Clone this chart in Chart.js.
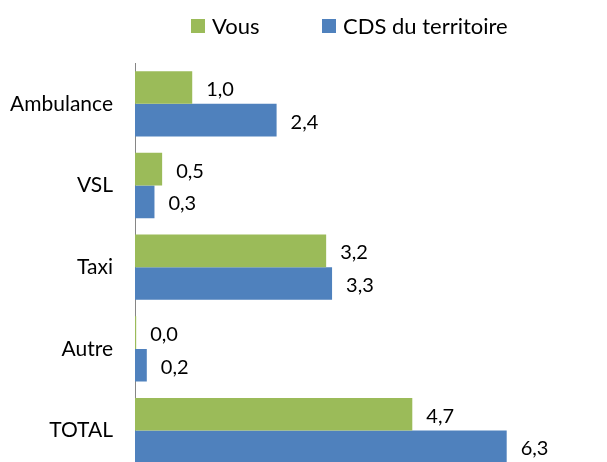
<!DOCTYPE html>
<html>
<head>
<meta charset="utf-8">
<script src="https://cdn.jsdelivr.net/npm/chart.js@4/dist/chart.umd.min.js"></script>
<style>
  html, body { margin: 0; padding: 0; background: #fff; overflow: hidden; }
  canvas { display: block; }
</style>
</head>
<body>
<canvas id="c" width="607" height="506" style="width:607px;height:506px"></canvas>
<script>
const categories = ["Ambulance", "VSL", "Taxi", "Autre", "TOTAL"];
const seriesNames = ["Vous", "CDS du territoire"];
const vousValues = [0.97, 0.46, 3.24, 0.02, 4.7];
const cdsValues = [2.4, 0.33, 3.34, 0.2, 6.3];
const seriesColors = ["#9BBB59", "#4F81BD"];

const FONT = "Lato, 'Liberation Sans', sans-serif";

const valueLabels = {
  id: "valueLabels",
  afterDatasetsDraw(chart) {
    const ctx = chart.ctx;
    ctx.save();
    ctx.font = "20px " + FONT;
    ctx.fillStyle = "#000";
    ctx.textAlign = "left";
    ctx.textBaseline = "middle";
    chart.data.datasets.forEach((ds, di) => {
      const meta = chart.getDatasetMeta(di);
      meta.data.forEach((el, i) => {
        const v = ds.data[i];
        const txt = v.toFixed(1).replace(".", ",");
        ctx.fillText(txt, el.x + 14, el.y + 2);
      });
    });
    ctx.restore();
  }
};

const customLegend = {
  id: "customLegend",
  afterDraw(chart, args, opts) {
    const ctx = chart.ctx;
    ctx.save();
    ctx.font = "22px " + FONT;
    ctx.textBaseline = "middle";
    ctx.textAlign = "left";
    chart.data.datasets.forEach((ds, i) => {
      const x = opts.xs[i];
      ctx.fillStyle = ds.backgroundColor;
      ctx.fillRect(x, opts.y - 7, 14, 14);
      ctx.fillStyle = "#000";
      ctx.fillText(ds.label, x + 21, opts.y + 1);
    });
    ctx.restore();
  }
};

new Chart(document.getElementById("c"), {
  type: "bar",
  data: {
    labels: categories,
    datasets: [
      { label: seriesNames[0], data: vousValues, backgroundColor: seriesColors[0] },
      { label: seriesNames[1], data: cdsValues, backgroundColor: seriesColors[1] }
    ]
  },
  options: {
    indexAxis: "y",
    responsive: false,
    maintainAspectRatio: false,
    animation: false,
    devicePixelRatio: 1,
    layout: { padding: { top: 63, right: 59, bottom: 9, left: 0 } },
    datasets: { bar: { categoryPercentage: 0.8, barPercentage: 1.0 } },
    scales: {
      x: {
        display: false,
        min: 0,
        max: 7
      },
      y: {
        afterFit(scale) { scale.width = 135; },
        grid: { display: false, drawTicks: false },
        border: { display: true, color: "#868686", width: 1 },
        ticks: { color: "#000", font: { family: FONT, size: 21 }, padding: 22 }
      }
    },
    plugins: {
      legend: { display: false },
      tooltip: { enabled: false },
      customLegend: { xs: [191, 322], y: 26 }
    }
  },
  plugins: [valueLabels, customLegend]
});
</script>
</body>
</html>
